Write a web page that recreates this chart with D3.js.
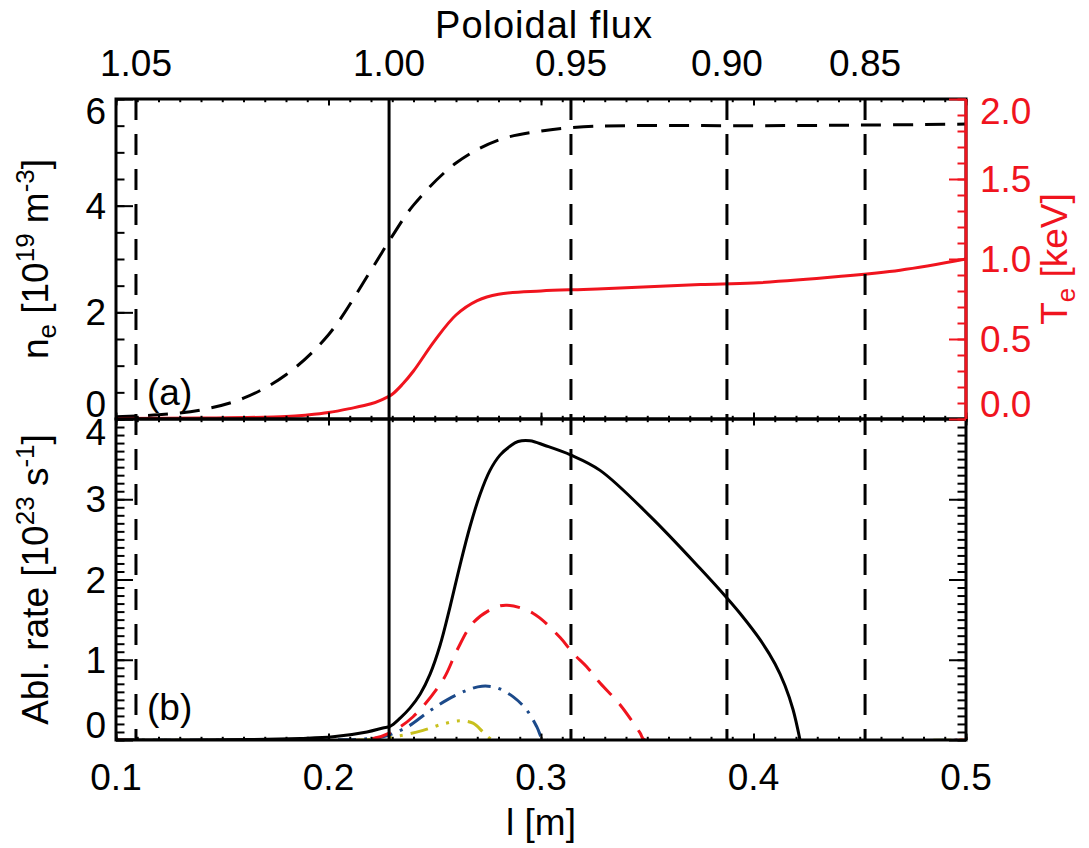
<!DOCTYPE html>
<html>
<head>
<meta charset="utf-8">
<script src="https://cdn.jsdelivr.net/npm/d3@7/dist/d3.min.js"></script>
<style>
  body { margin: 0; background: #fff; }
  svg text { font-family: 'Liberation Sans', Arial, Helvetica, sans-serif; font-size: 37px; white-space: pre; }
</style>
</head>
<body>
<div id="chart"></div>
<script>
// ---- data ----
// (a) electron density [1e19 m^-3] and temperature [keV] vs l [m]
const neL = [0.10, 0.12, 0.14, 0.16, 0.18, 0.20, 0.22, 0.23, 0.24, 0.26, 0.28, 0.30, 0.32, 0.34, 0.40, 0.45, 0.50];
const neVals = [0.04, 0.08, 0.17, 0.39, 0.83, 1.58, 2.79, 3.43, 4.01, 4.80, 5.23, 5.40, 5.48, 5.50, 5.50, 5.51, 5.53];

const teL = [0.10, 0.14, 0.18, 0.19, 0.20, 0.21, 0.22, 0.225, 0.23, 0.235, 0.24, 0.25, 0.26, 0.27, 0.28, 0.30, 0.32, 0.34, 0.375, 0.40, 0.44, 0.469, 0.50];
const teVals = [0.003, 0.006, 0.015, 0.025, 0.04, 0.065, 0.095, 0.12, 0.155, 0.22, 0.30, 0.49, 0.65, 0.74, 0.78, 0.80, 0.81, 0.82, 0.84, 0.85, 0.89, 0.93, 1.0];

// (b) ablation rate [1e23 s^-1]
const ablAllL = [0.10, 0.163, 0.1866, 0.2021, 0.2181, 0.2256, 0.2289, 0.2336, 0.2384, 0.2431, 0.2478, 0.2525, 0.2572, 0.2619, 0.2666, 0.2713, 0.276, 0.2807, 0.2854, 0.2892, 0.2948, 0.3019, 0.3141, 0.3278, 0.3513, 0.3748, 0.3875, 0.3939, 0.4031, 0.4101, 0.4148, 0.4186, 0.4219];
const ablAllVals = [0, 0.006, 0.02, 0.04, 0.10, 0.15, 0.17, 0.27, 0.40, 0.57, 0.82, 1.18, 1.66, 2.18, 2.66, 3.06, 3.36, 3.55, 3.66, 3.72, 3.73, 3.67, 3.55, 3.36, 2.79, 2.14, 1.77, 1.57, 1.25, 0.95, 0.68, 0.38, 0];

const ablRedL = [0.10, 0.2195, 0.2289, 0.2398, 0.2539, 0.2605, 0.268, 0.2774, 0.284, 0.2962, 0.3089, 0.3151, 0.3216, 0.3278, 0.3372, 0.3466, 0.3489, 0.50];
const ablRedVals = [0, 0.01, 0.09, 0.29, 0.75, 1.12, 1.46, 1.64, 1.68, 1.58, 1.28, 1.08, 0.91, 0.71, 0.44, 0.09, 0, 0];

const ablBlueL = [0.10, 0.2148, 0.2256, 0.2369, 0.2464, 0.2558, 0.2652, 0.2722, 0.2793, 0.2868, 0.2934, 0.2981, 0.3005, 0.3019, 0.50];
const ablBlueVals = [0, 0.01, 0.04, 0.16, 0.34, 0.50, 0.62, 0.67, 0.65, 0.54, 0.37, 0.16, 0.02, 0, 0];

const ablYellowL = [0.10, 0.2148, 0.2242, 0.235, 0.2445, 0.2539, 0.2619, 0.268, 0.2727, 0.276, 0.2779, 0.50];
const ablYellowVals = [0, 0, 0.02, 0.06, 0.12, 0.20, 0.24, 0.21, 0.10, 0.02, 0, 0];

// ticks
const xTicks = [0.1, 0.2, 0.3, 0.4, 0.5];
const fluxTicks = [1.05, 1.00, 0.95, 0.90, 0.85];
const fluxTickL = [0.1094, 0.2285, 0.3141, 0.3875, 0.4525];
const neTicks = [0, 2, 4, 6];
const teTicks = [0, 0.5, 1.0, 1.5, 2.0];
const ablTicks = [0, 1, 2, 3, 4];

// ---- drawing ----
const RED = '#f0141e';
const BLUE = '#1c4a8a';
const YELLOW = '#c8c01e';

const size = { width: 1089, height: 848 };
const box = { left: 116, right: 966, top: 99, mid: 419, bottom: 740 };

const svg = d3.select('#chart')
  .append('svg')
  .attr('width', size.width)
  .attr('height', size.height);

const x = d3.scaleLinear().domain([0.1, 0.5]).range([box.left, box.right]);
// poloidal flux -> l, piecewise through the labelled points
const flux = d3.scaleLinear().domain(fluxTicks).range(fluxTickL);
const yNe = d3.scaleLinear().domain([0, 6]).range([box.mid, box.top]);
const yTe = d3.scaleLinear().domain([0, 2]).range([box.mid, box.top]);
const yAbl = d3.scaleLinear().domain([0, 4]).range([box.bottom, box.mid]);

const zip = (ls, vs) => ls.map((l, i) => ({ l, v: vs[i] }));

const defs = svg.append('defs');
defs.append('clipPath').attr('id', 'clipA')
  .append('rect').attr('x', box.left).attr('y', box.top)
  .attr('width', box.right - box.left).attr('height', box.mid - box.top);
defs.append('clipPath').attr('id', 'clipB')
  .append('rect').attr('x', box.left).attr('y', box.mid - 2)
  .attr('width', box.right - box.left).attr('height', box.bottom - box.mid + 2);

const drawLine = (data, y, color, dash, clip) => {
  const line = d3.line()
    .x((d) => x(d.l))
    .y((d) => y(d.v))
    .curve(d3.curveCatmullRom.alpha(0.5));
  svg.append('path')
    .attr('d', line(data))
    .attr('fill', 'none')
    .attr('stroke', color)
    .attr('stroke-width', 3)
    .attr('stroke-dasharray', dash)
    .attr('clip-path', `url(#${clip})`);
};

// panel (a)
drawLine(zip(neL, neVals), yNe, '#000', '20,12', 'clipA');
drawLine(zip(teL, teVals), yTe, RED, null, 'clipA');

// panel (b)
drawLine(zip(ablYellowL, ablYellowVals), yAbl, YELLOW, '18,8,3,8,3,8,3,8', 'clipB');
drawLine(zip(ablBlueL, ablBlueVals), yAbl, BLUE, '18,8,3,8', 'clipB');
drawLine(zip(ablRedL, ablRedVals), yAbl, RED, '20,12', 'clipB');
drawLine(zip(ablAllL, ablAllVals), yAbl, '#000', null, 'clipB');

// vertical markers at the flux ticks
svg.append('g')
  .selectAll('line')
  .data(fluxTicks)
  .join('line')
  .attr('x1', (d) => x(flux(d)))
  .attr('x2', (d) => x(flux(d)))
  .attr('y1', box.top)
  .attr('y2', box.bottom)
  .attr('stroke', '#000')
  .attr('stroke-width', 3)
  .attr('stroke-dasharray', (d) => (d === 1 ? null : '21,14'));

// inward tick marks without labels
const ticks = (translate, axis, scale, values, len, color = '#000') => {
  const g = svg.append('g')
    .attr('transform', translate)
    .call(axis(scale).tickValues(values).tickSize(len).tickFormat(''));
  g.select('.domain').remove();
  g.selectAll('line').attr('stroke', color).attr('stroke-width', 2);
};

const xMinor = d3.range(10, 51).map((d) => d / 100);
const neMinor = d3.range(0, 13).map((d) => d / 2);
const teMinor = d3.range(0, 21).map((d) => d / 10);
const ablMinor = d3.range(0, 41).map((d) => d / 10);

[box.top, box.mid].forEach((yy) => {
  ticks(`translate(0,${yy})`, d3.axisBottom, x, xMinor, 3.2);
  ticks(`translate(0,${yy})`, d3.axisBottom, x, xTicks, 6.4);
});
[box.mid, box.bottom].forEach((yy) => {
  ticks(`translate(0,${yy})`, d3.axisTop, x, xMinor, 3.2);
  ticks(`translate(0,${yy})`, d3.axisTop, x, xTicks, 6.4);
});
ticks(`translate(${box.left},0)`, d3.axisRight, yNe, neMinor, 8.5);
ticks(`translate(${box.left},0)`, d3.axisRight, yNe, neTicks, 17);
ticks(`translate(${box.left},0)`, d3.axisRight, yAbl, ablMinor, 8.5);
ticks(`translate(${box.left},0)`, d3.axisRight, yAbl, ablTicks, 17);
ticks(`translate(${box.right},0)`, d3.axisLeft, yAbl, ablMinor, 8.5);
ticks(`translate(${box.right},0)`, d3.axisLeft, yAbl, ablTicks, 17);

// frames
[[box.top, box.mid], [box.mid, box.bottom]].forEach(([t, b]) => {
  svg.append('rect')
    .attr('x', box.left).attr('y', t)
    .attr('width', box.right - box.left).attr('height', b - t)
    .attr('fill', 'none').attr('stroke', '#000').attr('stroke-width', 3);
});

// red Te axis on the right of panel (a)
ticks(`translate(${box.right},0)`, d3.axisLeft, yTe, teMinor, 8.5, RED);
ticks(`translate(${box.right},0)`, d3.axisLeft, yTe, teTicks, 17, RED);
svg.append('line')
  .attr('x1', box.right).attr('x2', box.right)
  .attr('y1', box.top).attr('y2', box.mid)
  .attr('stroke', RED).attr('stroke-width', 3);

// tick labels; the end labels sit inside the range like in the original
const yShift = (i, n) => {
  if (i === n - 1) return 25;
  if (i === 0) return -2;
  return 13;
};

const labels = (values, fmt, px, py, anchor, color = '#000') => {
  svg.append('g')
    .selectAll('text')
    .data(values)
    .join('text')
    .attr('x', (d, i) => px(d, i))
    .attr('y', (d, i) => py(d, i))
    .attr('text-anchor', anchor)
    .attr('fill', color)
    .text(fmt);
};

labels(xTicks, d3.format('.1f'), (d) => x(d), () => 790, 'middle');
labels(fluxTicks, d3.format('.2f'), (d) => x(flux(d)), () => 76, 'middle');
labels(neTicks, d3.format('d'), () => 106, (d, i) => yNe(d) + yShift(i, neTicks.length), 'end');
labels(ablTicks, d3.format('d'), () => 106, (d, i) => yAbl(d) + yShift(i, ablTicks.length) + (i === ablTicks.length - 1 ? 1 : 0), 'end');
labels(teTicks, d3.format('.1f'), () => 980, (d, i) => yTe(d) + yShift(i, teTicks.length), 'start', RED);

// titles
const richText = (sel, parts) => {
  let shift = 0;
  parts.forEach(([t, kind]) => {
    let target = 0;
    if (kind === 'sup') target = -14;
    if (kind === 'sub') target = 8;
    sel.append('tspan')
      .attr('dy', target - shift)
      .attr('font-size', kind ? 26 : null)
      .text(t);
    shift = target;
  });
};

svg.append('text')
  .attr('x', 544).attr('y', 38)
  .attr('text-anchor', 'middle')
  .style('font-size', '38px')
  .style('letter-spacing', '1px')
  .text('Poloidal flux');

svg.append('text')
  .attr('x', (box.left + box.right) / 2).attr('y', 835)
  .attr('text-anchor', 'middle')
  .text('l [m]');

svg.append('text')
  .attr('transform', `translate(48,${(box.top + box.mid) / 2}) rotate(-90)`)
  .attr('text-anchor', 'middle')
  .call(richText, [['n'], ['e', 'sub'], [' [10'], ['19', 'sup'], [' m'], ['-3', 'sup'], [']']]);

svg.append('text')
  .attr('transform', `translate(48,${(box.mid + box.bottom) / 2}) rotate(-90)`)
  .attr('text-anchor', 'middle')
  .call(richText, [['Abl. rate [10'], ['23', 'sup'], [' s'], ['-1', 'sup'], [']']]);

svg.append('text')
  .attr('transform', `translate(1067,${(box.top + box.mid) / 2}) rotate(-90)`)
  .attr('text-anchor', 'middle')
  .attr('fill', RED)
  .call(richText, [['T'], ['e', 'sub'], [' [keV]']]);

svg.append('text').attr('x', 147).attr('y', 405).text('(a)');
svg.append('text').attr('x', 147).attr('y', 720).text('(b)');
</script>
</body>
</html>
